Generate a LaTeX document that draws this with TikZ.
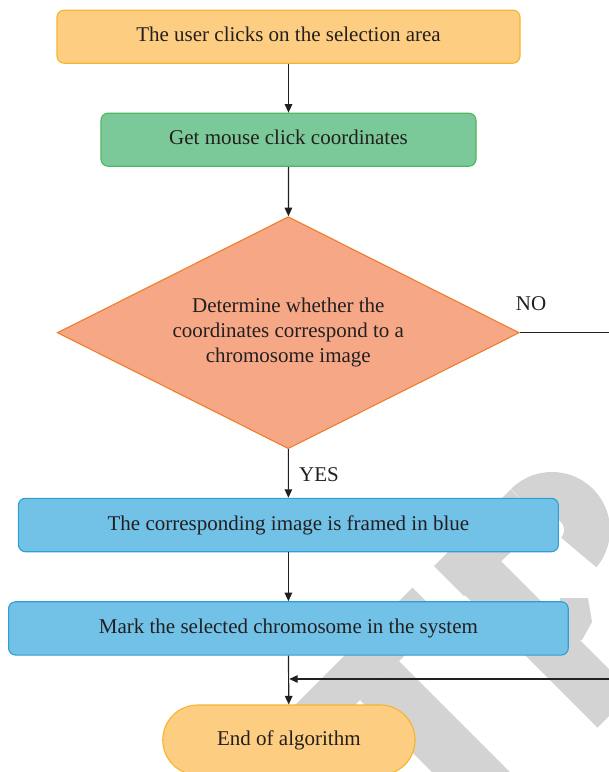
\documentclass[tikz,border=0pt]{standalone}
\usepackage{fontspec}
\setmainfont{Liberation Serif}
\usetikzlibrary{shapes.geometric,arrows.meta}

\definecolor{ink}{HTML}{231F20}
\definecolor{orangefill}{HTML}{FDCD82}
\definecolor{orangeedge}{HTML}{F7B42C}
\definecolor{greenfill}{HTML}{7BC999}
\definecolor{greenedge}{HTML}{4DB861}
\definecolor{diafill}{HTML}{F6A886}
\definecolor{diaedge}{HTML}{F07D2A}
\definecolor{bluefill}{HTML}{72C1E7}
\definecolor{blueedge}{HTML}{2F9ED7}
\definecolor{markgray}{HTML}{D3D3D3}

\begin{document}
\begin{tikzpicture}[x=1pt,y=-1pt,
  every node/.style={font=\fontsize{21}{25}\selectfont, text=ink},
  box/.style={draw, rounded corners=7pt, line width=1.1pt, inner sep=0pt,
              text height=14.3pt, text depth=4.2pt},
  startbox/.style={box, fill=orangefill, draw=orangeedge},
  actbox/.style={box, fill=greenfill, draw=greenedge},
  bluebox/.style={box, fill=bluefill, draw=blueedge},
  decision/.style={diamond, aspect=2, draw=diaedge, fill=diafill, line width=1.1pt,
                   inner sep=0pt, align=center},
  terminal/.style={box, fill=orangefill, draw=orangeedge, rounded corners=35pt},
  lbl/.style={inner sep=0pt},
  arr/.style={draw=ink, line width=1.2pt, -{Triangle[length=8.5pt,width=7.5pt]}},
  logo/.style={fill=markgray, draw=none}]

\useasboundingbox (0,0) rectangle (609,772);

% background logo in light gray
\fill[logo] (220,780) -- (412.5,587.5) -- (442.5,617.5) -- (280,780) -- cycle;
\fill[logo] (360,700) -- (399,661) -- (518,780) -- (440,780) -- cycle;
\fill[logo] (462,592) -- (497,557) -- (632.5,692.5) -- (597.5,727.5) -- cycle;
\fill[logo] (560,598) -- (588,598) -- (592,622) -- (582,640) -- (560,640) -- cycle;
\fill[logo] (434,566) -- (510.5,489.5) -- (543.5,521.5) -- (464,596) -- cycle;
\fill[logo] plot[domain=225:400, samples=60] ({552+58*cos(\x)},{530+58*sin(\x)})
  -- plot[domain=400:225, samples=60] ({552+12*cos(\x)},{530+12*sin(\x)}) -- cycle;

% flow nodes
\node[startbox, minimum width=463pt, minimum height=53pt] (start) at (288.5,36.7)
  {The user clicks on the selection area};
\node[actbox, minimum width=375pt, minimum height=53pt] (click) at (288.5,139.7)
  {Get mouse click coordinates};
\node[decision, minimum width=462pt, minimum height=232pt] (decide) at (288.3,332.7)
  {Determine whether the\\coordinates correspond to a\\chromosome image};
\node[bluebox, minimum width=540pt, minimum height=53.4pt] (frame) at (288.4,525)
  {The corresponding image is framed in blue};
\node[bluebox, minimum width=559.7pt, minimum height=53.3pt] (mark) at (288.4,628.4)
  {Mark the selected chromosome in the system};
\node[terminal, minimum width=252.3pt, minimum height=70pt] (finish) at (288.9,740)
  {End of algorithm};

% branch labels
\node[lbl] (yes) at (319,474.5) {YES};
\node[lbl] (no) at (531,304) {NO};

% connectors
\coordinate (join) at (289.2,679);
\draw[arr] (start) -- (click);
\draw[arr] (click) -- (decide);
\draw[arr] (decide) -- (frame);
\draw[arr] (frame) -- (mark);
\draw[arr] (mark) -- (finish);
\draw[arr] (decide.east) -- (620,332.7) |- (join);
\end{tikzpicture}
\end{document}
